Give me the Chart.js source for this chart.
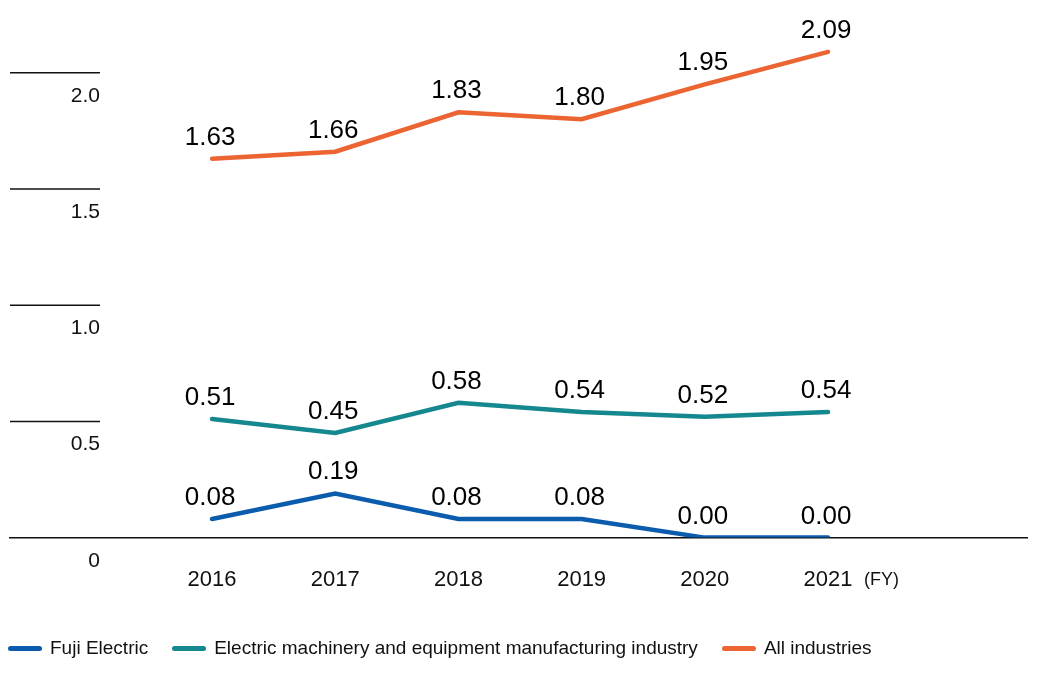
<!DOCTYPE html>
<html>
<head>
<meta charset="utf-8">
<script src="https://cdn.jsdelivr.net/npm/chart.js@4/dist/chart.umd.min.js"></script>
<style>
  html, body { margin: 0; padding: 0; background: #fff; }
  #wrap { position: relative; width: 1040px; height: 676px; }
  #legend { position: absolute; left: 8px; top: 635px; display: flex; font: 19px "Liberation Sans", Arial, sans-serif; color: #111; }
  #legend .item { display: flex; align-items: center; margin-right: 24px; height: 26px; }
  #legend .swatch { display: inline-block; width: 34px; height: 5px; border-radius: 3px; margin-right: 8px; }
</style>
</head>
<body>
<div id="wrap">
  <canvas id="chart" width="1040" height="676"></canvas>
  <div id="legend"></div>
</div>
<script>
var years = [2016, 2017, 2018, 2019, 2020, 2021];
var fujiElectric = [0.08, 0.19, 0.08, 0.08, 0.00, 0.00];
var electricMachinery = [0.51, 0.45, 0.58, 0.54, 0.52, 0.54];
var allIndustries = [1.63, 1.66, 1.83, 1.80, 1.95, 2.09];
var yTicks = [0, 0.5, 1.0, 1.5, 2.0];
var yTickLabels = ['0', '0.5', '1.0', '1.5', '2.0'];
var seriesNames = ['Fuji Electric', 'Electric machinery and equipment manufacturing industry', 'All industries'];
var seriesColors = ['#0b5cad', '#15878f', '#ec6431'];

var FONT = '"Liberation Sans", Arial, sans-serif';

function points(values) {
  return years.map(function (y, i) { return { x: y, y: values[i] }; });
}

// short tick lines on the left + labels under them
var yAxisPlugin = {
  id: 'yAxisShort',
  afterDraw: function (chart) {
    var ctx = chart.ctx, yScale = chart.scales.y, area = chart.chartArea;
    ctx.save();
    ctx.strokeStyle = '#111';
    ctx.lineWidth = 1.5;
    ctx.fillStyle = '#111';
    ctx.font = '21px ' + FONT;
    ctx.textAlign = 'right';
    ctx.textBaseline = 'alphabetic';
    yTicks.forEach(function (v, i) {
      var py = yScale.getPixelForValue(v);
      if (v > 0) {
        ctx.beginPath();
        ctx.moveTo(area.left, py);
        ctx.lineTo(100, py);
        ctx.stroke();
      }
      ctx.fillText(yTickLabels[i], 100, py + 29);
    });
    // (FY) after the last year
    var xScale = chart.scales.x;
    ctx.textAlign = 'left';
    ctx.font = '18px ' + FONT;
    ctx.fillText('(FY)', xScale.getPixelForValue(years[years.length - 1]) + 36, area.bottom + 47);
    ctx.restore();
  }
};

// value labels above each point
var valueLabelPlugin = {
  id: 'valueLabels',
  afterDatasetsDraw: function (chart) {
    var ctx = chart.ctx;
    ctx.save();
    ctx.fillStyle = '#000';
    ctx.font = '26px ' + FONT;
    ctx.textAlign = 'center';
    ctx.textBaseline = 'alphabetic';
    chart.data.datasets.forEach(function (ds, di) {
      chart.getDatasetMeta(di).data.forEach(function (pt, i) {
        ctx.fillText(ds.data[i].y.toFixed(2), pt.x - 2, pt.y - 14);
      });
    });
    ctx.restore();
  }
};

var ctx = document.getElementById('chart').getContext('2d');
var chart = new Chart(ctx, {
  type: 'line',
  data: {
    datasets: [
      { label: seriesNames[0], data: points(fujiElectric), borderColor: seriesColors[0] },
      { label: seriesNames[1], data: points(electricMachinery), borderColor: seriesColors[1] },
      { label: seriesNames[2], data: points(allIndustries), borderColor: seriesColors[2] }
    ]
  },
  options: {
    responsive: false,
    animation: false,
    layout: { padding: { left: 10, right: 13, top: 3, bottom: 54 } },
    elements: {
      line: { borderWidth: 4.5, borderCapStyle: 'round', tension: 0, fill: false },
      point: { radius: 0, hoverRadius: 0 }
    },
    plugins: {
      legend: { display: false },
      tooltip: { enabled: false }
    },
    scales: {
      x: {
        type: 'linear',
        min: 2014.36,
        max: 2022.615,
        afterBuildTicks: function (scale) {
          scale.ticks = years.map(function (y) { return { value: y }; });
        },
        grid: { display: false, drawTicks: false },
        border: { display: true, color: '#111', width: 1.5 },
        ticks: {
          padding: 29,
          color: '#111',
          font: { family: FONT, size: 22 },
          callback: function (v) { return String(v); }
        }
      },
      y: {
        display: false,
        min: 0,
        max: 2.3
      }
    }
  },
  plugins: [yAxisPlugin, valueLabelPlugin]
});

// html legend built from the datasets
var legend = document.getElementById('legend');
chart.data.datasets.forEach(function (ds) {
  var item = document.createElement('span');
  item.className = 'item';
  var sw = document.createElement('span');
  sw.className = 'swatch';
  sw.style.background = ds.borderColor;
  item.appendChild(sw);
  item.appendChild(document.createTextNode(ds.label));
  legend.appendChild(item);
});
</script>
</body>
</html>
